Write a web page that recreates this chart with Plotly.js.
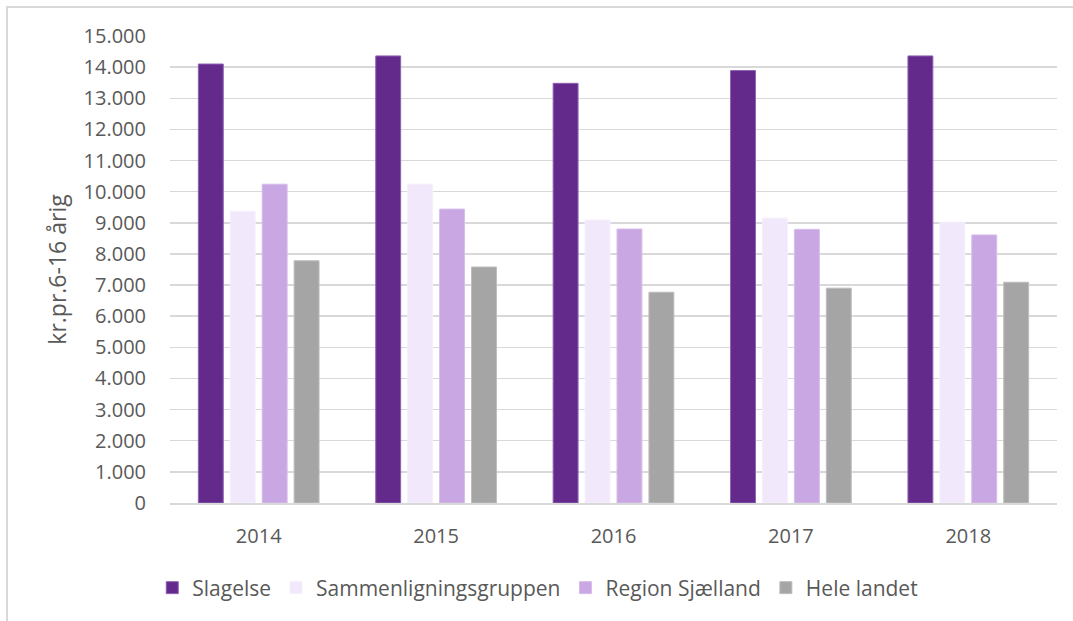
<!DOCTYPE html>
<html>
<head>
<meta charset="utf-8">
<script src="https://cdn.plot.ly/plotly-3.0.1.min.js"></script>
<style>
  html, body { margin: 0; padding: 0; background: #fff; }
  #wrap { position: relative; width: 1073px; height: 621px; overflow: hidden; }
  #chart { width: 1073px; height: 621px; }
  #frame { position: absolute; left: 6px; top: 6px; right: -10px; bottom: -10px;
           border-top: 2px solid #d9d9d9; border-left: 2px solid #d9d9d9; pointer-events: none; }
</style>
</head>
<body>
<div id="wrap">
  <div id="chart"></div>
  <div id="frame"></div>
</div>
<script>
const years = ['2014', '2015', '2016', '2017', '2018'];
const seriesNames = ['Slagelse', 'Sammenligningsgruppen', 'Region Sjælland', 'Hele landet'];
const slagelse = [14100, 14360, 13480, 13890, 14360];
const sammenligningsgruppen = [9370, 10240, 9090, 9150, 9020];
const regionSjaelland = [10240, 9440, 8800, 8790, 8610];
const heleLandet = [7780, 7580, 6770, 6900, 7090];
const yTickVals = [0, 1000, 2000, 3000, 4000, 5000, 6000, 7000, 8000, 9000, 10000, 11000, 12000, 13000, 14000, 15000];
const yTickText = ['0', '1.000', '2.000', '3.000', '4.000', '5.000', '6.000', '7.000', '8.000', '9.000', '10.000', '11.000', '12.000', '13.000', '14.000', '15.000'];
const yTitle = 'kr.pr.6-16 årig';

const colors = ['#632a8c', '#f1e9fb', '#c8a7e2', '#a5a5a5'];
const edge = ['#8d62b3', '#f5effc', '#d6bdeb', '#bdbdbd'];
const values = [slagelse, sammenligningsgruppen, regionSjaelland, heleLandet];

const font = "'Open Sans', 'Segoe UI', sans-serif";
const traces = values.map((v, i) => ({
  type: 'bar',
  name: seriesNames[i],
  x: years,
  y: v,
  marker: { color: colors[i], line: { color: edge[i], width: 1 } },
  hoverinfo: 'x+y+name'
}));

const layout = {
  width: 1073, height: 621,
  margin: { l: 170, r: 16, t: 36, b: 118 },
  paper_bgcolor: '#ffffff',
  plot_bgcolor: '#ffffff',
  barmode: 'group',
  bargap: 0.28,
  bargroupgap: 0.22,
  font: { family: font, color: '#595959', size: 20 },
  xaxis: {
    type: 'category',
    showgrid: false,
    showline: true, linecolor: '#d9d9d9', linewidth: 1.5,
    ticks: 'outside', ticklen: 14, tickcolor: 'rgba(0,0,0,0)',
    tickfont: { family: font, size: 20, color: '#595959' },
    zeroline: false
  },
  yaxis: {
    range: [0, 15000],
    tickvals: yTickVals, ticktext: yTickText,
    showgrid: true, gridcolor: '#d9d9d9', gridwidth: 1.5,
    zeroline: false, showline: false,
    ticks: 'outside', ticklen: 19, tickcolor: 'rgba(0,0,0,0)',
    tickfont: { family: font, size: 20, color: '#595959' },
    title: { text: yTitle, font: { family: font, size: 23, color: '#595959' }, standoff: 10 },
    automargin: false
  },
  legend: {
    orientation: 'h',
    x: -0.02, xanchor: 'left',
    y: -0.182, yanchor: 'middle',
    font: { family: font, size: 21, color: '#595959' },
    traceorder: 'normal'
  },
  showlegend: true
};

Plotly.newPlot('chart', traces, layout, { displayModeBar: false, staticPlot: true });
</script>
</body>
</html>
